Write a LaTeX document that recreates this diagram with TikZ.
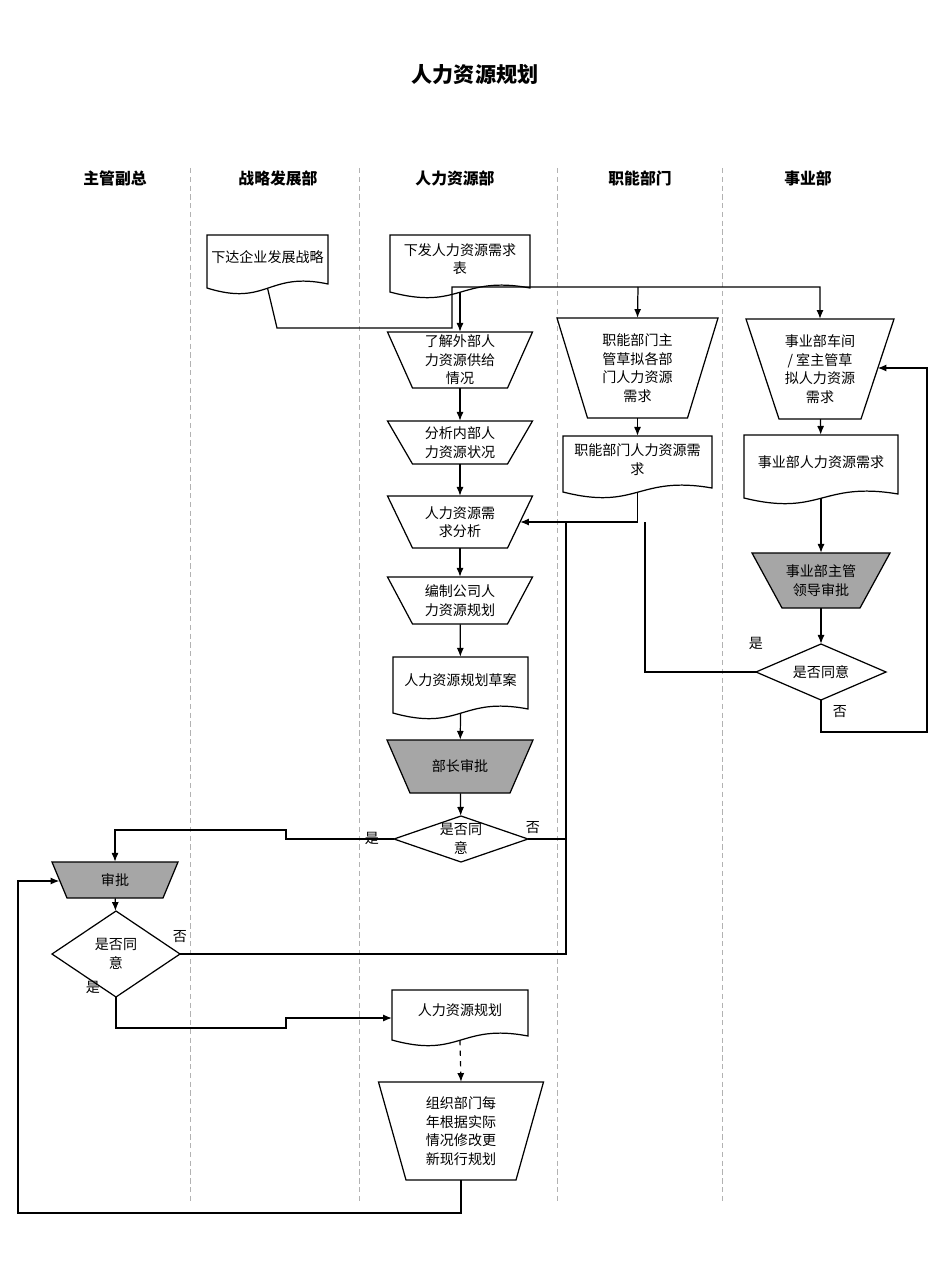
\documentclass[tikz,border=0pt]{standalone}
\usepackage{fontspec}
\newfontfamily\cjk{Noto Sans CJK SC}
\usepackage{tikz}
\usetikzlibrary{arrows.meta}
\definecolor{apprgray}{HTML}{A6A6A6}
\tikzset{box/.style={inner sep=0pt,align=center,font=\cjk\fontsize{8}{10.5}\selectfont},
         head/.style={font=\cjk\bfseries\fontsize{9}{11}\selectfont},
         lane/.style={densely dashed,gray!60,line width=0.5pt},
         flow/.style={-{Latex[length=5pt,width=4pt]},line width=0.7pt},
         link/.style={line width=0.7pt},
         yn/.style={font=\cjk\fontsize{8}{10}\selectfont},
            }
% trapezoid: fill, name, cx, ytop, wtop, ybot, wbot, text
\newcommand{\trap}[8][white]{%
  \filldraw[fill=#1,line width=0.7pt] ({#3-#5/2},#4) -- ({#3+#5/2},#4) -- ({#3+#7/2},#6) -- ({#3-#7/2},#6) -- cycle;
  \node[box,minimum width={(#5+#7)/2*0.567pt},minimum height={(#6-#4)*0.567pt}] (#2) at (#3,{(#4+#6)/2}) {#8};}
% document: name, x1, y1, x2, y2, text
\newcommand{\doc}[6]{%
  \draw[line width=0.7pt] (#2,#3) -- (#4,#3) -- (#4,{#5-9}) .. controls ({(#2+#4)/2},{#5-22}) and ({(#2+#4)/2},{#5+14}) .. (#2,{#5-5}) -- cycle;
  \node[box,minimum width={(#4-#2)*0.567pt},minimum height={(#5-#3-14)*0.567pt}] (#1) at ({(#2+#4)/2},{(#3+#5-14)/2}) {#6};
  \coordinate (#1-b) at ({(#2+#4)/2},{#5-5});}
% decision: name, cx, cy, w, h, text
\newcommand{\dia}[6]{%
  \draw[line width=0.7pt] ({#2-#4/2},#3) -- (#2,{#3-#5/2}) -- ({#2+#4/2},#3) -- (#2,{#3+#5/2}) -- cycle;
  \node[box,minimum width={#4*0.567pt},minimum height={#5*0.567pt}] (#1) at (#2,#3) {#6};}

\begin{document}
\begin{tikzpicture}[x=0.02cm,y=-0.02cm]
    \useasboundingbox (0,0) rectangle (950,1267);
    \node[font=\cjk\bfseries\fontsize{12}{14}\selectfont] (title) at (475,75) {人力资源规划};

    \node[head] (h1) at (115,178) {主管副总};
    \node[head] (h2) at (278,178) {战略发展部};
    \node[head] (h3) at (455,178) {人力资源部};
    \node[head] (h4) at (640,178) {职能部门};
    \node[head] (h5) at (808,178) {事业部};
    \foreach \x in {190,359,557,722}
      \draw[lane] (\x,168) -- (\x,1203);

    \doc{xd}{207}{235}{328}{293}{下达企业发展战略}
    \doc{xf}{390}{235}{530}{297}{下发人力资源需求\\表}
    \trap{lj}{460}{332}{145}{388}{95}{了解外部人\\力资源供给\\情况}
    \trap{zn1}{637.5}{318}{161}{418}{100}{职能部门主\\管草拟各部\\门人力资源\\需求}
    \trap{sy1}{820}{319}{148}{419}{82}{事业部车间\\/ 室主管草\\拟人力资源\\需求}
    \trap{fx}{460}{421}{145}{464}{95}{分析内部人\\力资源状况}
    \doc{zn2}{563}{436}{712}{497}{职能部门人力资源需\\求}
    \doc{sy2}{744}{435}{898}{503}{事业部人力资源需求}
    \trap{xq}{460}{496}{145}{548}{95}{人力资源需\\求分析}
    \trap{bz}{460}{577}{145}{624}{95}{编制公司人\\力资源规划}
    \trap[apprgray]{sp1}{821}{553}{138}{608}{78}{事业部主管\\领导审批}
    \dia{d2}{821}{672}{130}{56}{是否同意}
    \doc{cg}{393}{657}{528}{718}{人力资源规划草案}
    \trap[apprgray]{bzsp}{460}{740}{146}{793}{100}{部长审批}
    \dia{d1}{461}{839}{134}{46}{是否同\\意}
    \trap[apprgray]{sp}{115}{862}{126}{898}{96}{审批}
    \dia{d3}{116}{954}{128}{86}{是否同\\意}
    \doc{gh}{392}{990}{528}{1045}{人力资源规划}
    \trap{zz}{461}{1082}{165}{1180}{110}{组织部门每\\年根据实际\\情况修改更\\新现行规划}

    \coordinate (split) at (638,287);
    \coordinate (jn) at (645,522);
    \coordinate (jr) at (566,839);

    \draw[flow] (xd-b) -- (277,328) -- (452,328) -- (452,287) -- (820,287) -- (sy1.north);
    \draw[flow] (split) -- (zn1.north);
    \draw[flow] (xf-b) -- (lj.north);
    \draw[flow] (lj) -- (fx);
    \draw[flow] (fx) -- (xq);
    \draw[flow] (xq) -- (bz);
    \draw[flow] (bz) -- (cg);
    \draw[flow] (cg-b) -- (bzsp);
    \draw[flow] (bzsp) -- (d1);
    \draw[flow] (zn1) -- (zn2);
    \draw[flow] (sy1) -- (sy2);
    \draw[flow] (sy2-b) -- (sp1);
    \draw[flow] (sp1) -- (d2);
    \draw[flow] (zn2-b) |- (xq.east);
    \draw[link] (d2.west) -| (jn);
    \draw[flow] (d2.south) -- (821,732) -| (927,368) -- (sy1.east |- 0,368);
    \draw[link] (d1.east) -| (566,522);
    \draw[flow] (d1.west) -- (286,839) -- (286,830) -| (sp.north);
    \draw[flow] (sp) -- (d3);
    \draw[link] (d3.east) -| (jr);
    \draw[flow] (d3.south) -- (116,1028) -- (286,1028) -- (286,1018) -- (gh.west |- 0,1018);
    \draw[flow,dashed] (gh-b) -- (zz.north);
    \draw[flow] (zz.south) -- (461,1213) -- (18,1213) -- (18,881) -- (sp.west |- 0,881);

    \node[yn] (y1) at (756,643) {是};
    \node[yn] (n1) at (840,712) {否};
    \node[yn] (y2) at (372,838) {是};
    \node[yn] (n2) at (533,828) {否};
    \node[yn] (n3) at (180,937) {否};
    \node[yn] (y3) at (93,987) {是};
\end{tikzpicture}
\end{document}
